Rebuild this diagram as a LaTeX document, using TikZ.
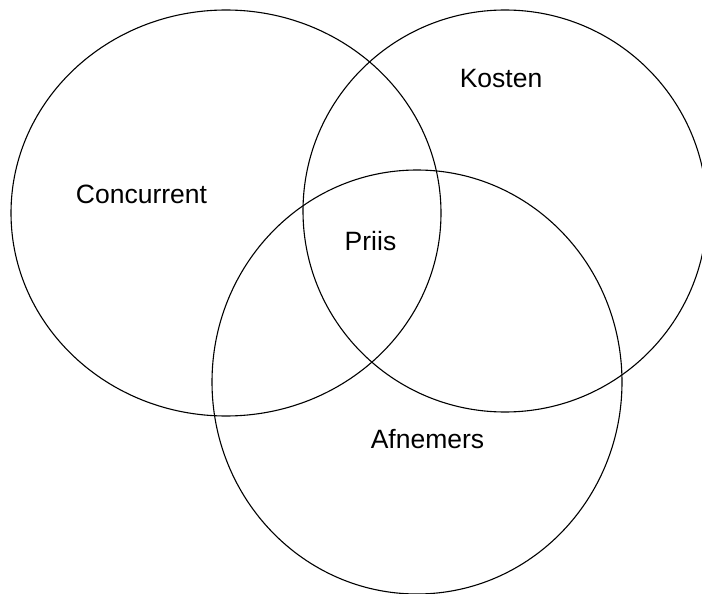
\documentclass[tikz,border=0pt]{standalone}
\usepackage{fontspec}
\setmainfont{Liberation Sans}
\usepackage{tikz}

\begin{document}
\begin{tikzpicture}[x=1pt, y=-1pt]
        \tikzstyle{set} = [draw, line width=1.1pt]
        \tikzstyle{label} = [anchor=base, inner sep=0pt, font=\fontsize{26.5}{30}\selectfont]

        \useasboundingbox (0,0) rectangle (702,594);

        \draw [set] (226,213) ellipse [x radius=215, y radius=203];
        \draw [set] (505,211) ellipse [x radius=202, y radius=201];
        \draw [set] (417,382) ellipse [x radius=205, y radius=212];

        \node [label] (concurrent) at (141.5,203) {Concurrent};
        \node [label] (kosten) at (501,88) {Kosten};
        \node [label] (prijs) at (370.5,250) {Priis};
        \node [label] (afnemers) at (427.5,448) {Afnemers};
    \end{tikzpicture}
\end{document}
